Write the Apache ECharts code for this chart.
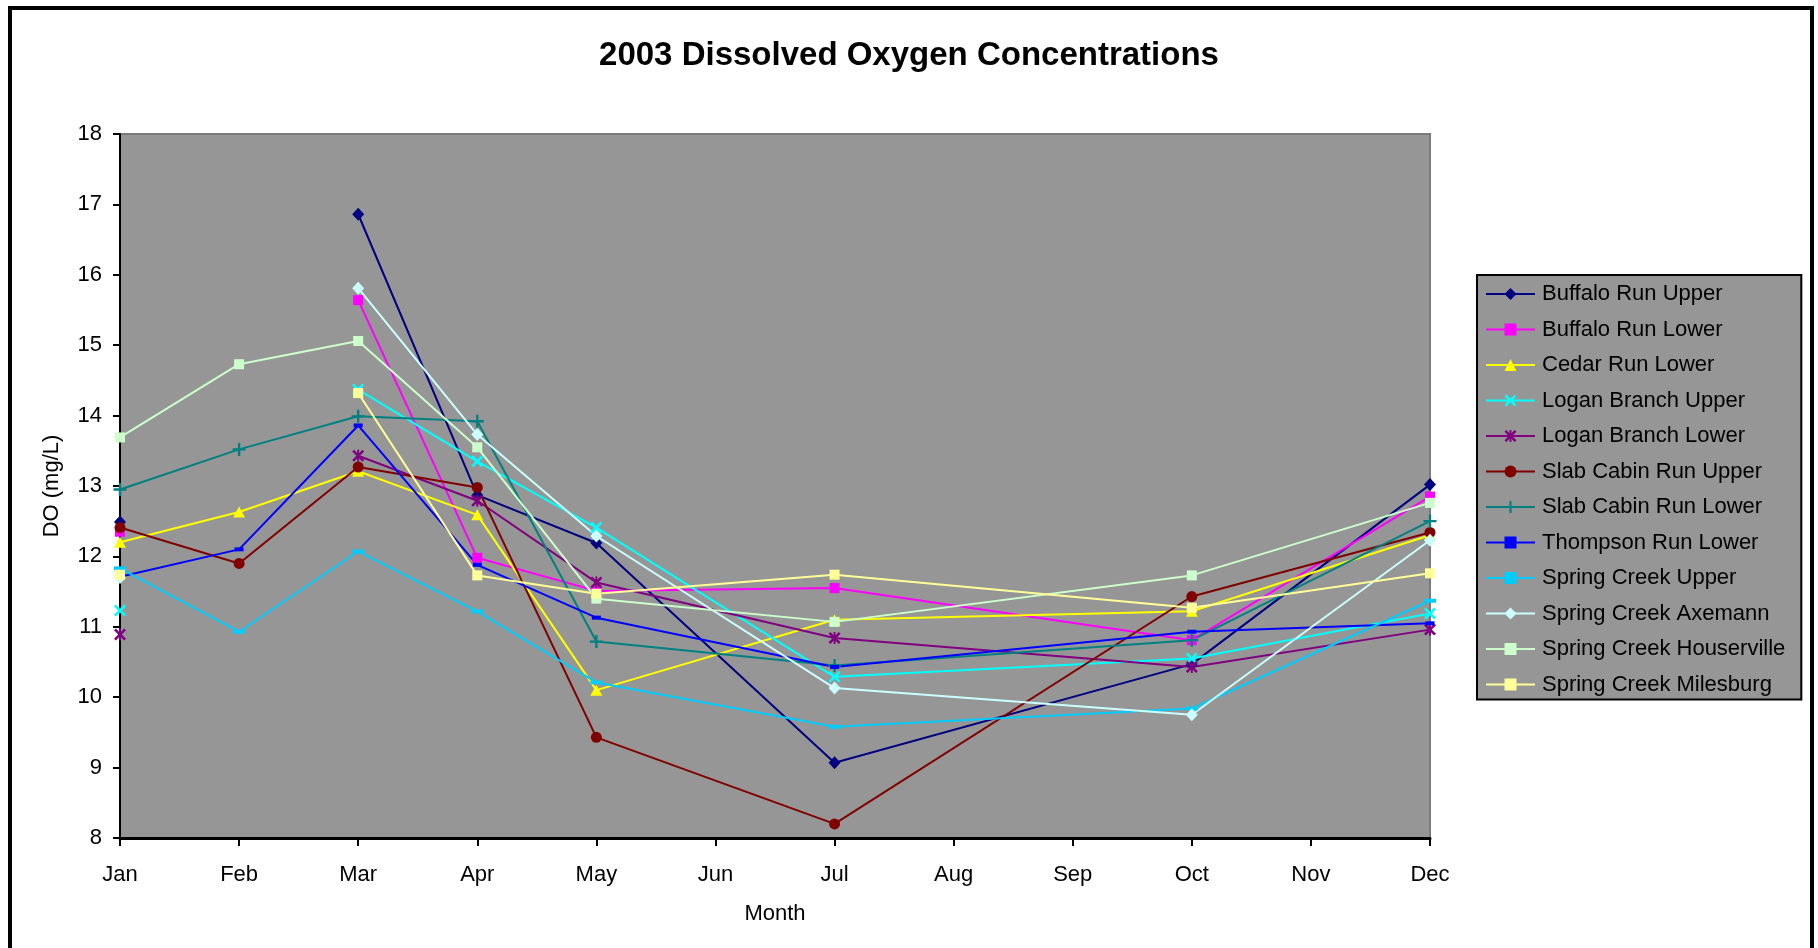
<!DOCTYPE html>
<html>
<head>
<meta charset="utf-8">
<script src="https://cdn.jsdelivr.net/npm/echarts@6/dist/echarts.min.js"></script>
<style>
html,body{margin:0;padding:0;background:#fff;}
#chart{width:1818px;height:948px;}
</style>
</head>
<body>
<div id="chart"></div>
<script>
// Axis tick labels
const monthLabels = ['Jan','Feb','Mar','Apr','May','Jun','Jul','Aug','Sep','Oct','Nov','Dec'];
// Months (index into monthLabels) that have sample rows
const sampleMonths = [0, 1, 2, 3, 4, 6, 9, 11];
const yTicks = [8, 9, 10, 11, 12, 13, 14, 15, 16, 17, 18];

// Series values (mg/L) for Jan, Feb, Mar, Apr, May, Jul, Oct, Dec; null = not sampled
const buffaloRunUpper        = [12.49, null, 16.86, 12.87, 12.19, 9.07, 10.47, 13.02];
const buffaloRunLower        = [12.35, null, 15.64, 11.98, 11.51, 11.55, 10.81, 12.85];
const cedarRunLower          = [12.20, 12.63, 13.21, 12.59, 10.10, 11.10, 11.22, 12.30];
const loganBranchUpper       = [11.23, null, 14.37, 13.35, 12.41, 10.29, 10.55, 11.19];
const loganBranchLower       = [10.89, null, 13.43, 12.79, 11.63, 10.84, 10.43, 10.96];
const slabCabinRunUpper      = [12.41, 11.90, 13.27, 12.98, 9.43, 8.20, 11.43, 12.34];
const slabCabinRunLower      = [12.95, 13.52, 13.99, 13.92, 10.79, 10.45, 10.81, 12.50];
const thompsonRunLower       = [11.71, 12.10, 13.86, 11.88, 11.13, 10.43, 10.93, 11.05];
const springCreekUpper       = [11.83, 10.93, 12.07, 11.22, 10.21, 9.58, 9.84, 11.37];
const springCreekAxemann     = [11.70, null, 15.81, 13.73, 12.29, 10.13, 9.75, 12.23];
const springCreekHouserville = [13.69, 14.73, 15.06, 13.55, 11.40, 11.07, 11.73, 12.76];
const springCreekMilesburg   = [11.74, null, 14.32, 11.73, 11.47, 11.74, 11.27, 11.76];

const seriesNames = ['Buffalo Run Upper','Buffalo Run Lower','Cedar Run Lower','Logan Branch Upper','Logan Branch Lower','Slab Cabin Run Upper','Slab Cabin Run Lower','Thompson Run Lower','Spring Creek Upper','Spring Creek Axemann','Spring Creek Houserville','Spring Creek Milesburg'];
const seriesValues = [buffaloRunUpper, buffaloRunLower, cedarRunLower, loganBranchUpper, loganBranchLower, slabCabinRunUpper, slabCabinRunLower, thompsonRunLower, springCreekUpper, springCreekAxemann, springCreekHouserville, springCreekMilesburg];

const X_PATH = 'path://M0,15 L15,0 L50,35 L85,0 L100,15 L65,50 L100,85 L85,100 L50,65 L15,100 L0,85 L35,50 Z';
const PLUS_PATH = 'path://M41,0 H59 V41 H100 V59 H59 V100 H41 V59 H0 V41 H41 Z';
const STAR_PATH = 'path://M0,15 L15,0 L50,35 L85,0 L100,15 L65,50 L100,85 L85,100 L50,65 L15,100 L0,85 L35,50 Z M42,0 H58 V100 H42 Z';

const styles = [
  {color:'#000080', symbol:'diamond', size:[12,13]},
  {color:'#FF00FF', symbol:'rect', size:[10,10]},
  {color:'#FFFF00', symbol:'triangle', size:[12,11]},
  {color:'#00FFFF', symbol:X_PATH, size:[12,12]},
  {color:'#800080', symbol:STAR_PATH, size:[12,12]},
  {color:'#800000', symbol:'circle', size:[11,11]},
  {color:'#008080', symbol:PLUS_PATH, size:[13,13]},
  {color:'#0000FF', symbol:'rect', size:[9,4]},
  {color:'#00CCFF', symbol:'rect', size:[12,4]},
  {color:'#CCFFFF', symbol:'diamond', size:[12,13]},
  {color:'#CCFFCC', symbol:'rect', size:[10,10]},
  {color:'#FFFF99', symbol:'rect', size:[10,10]}
];

const FONT = 'Liberation Sans, Arial, sans-serif';

const series = seriesNames.map((name, i) => ({
  name: name,
  type: 'line',
  data: sampleMonths.map((m, j) => [m, seriesValues[i][j] == null ? '-' : seriesValues[i][j]]),
  connectNulls: false,
  symbol: styles[i].symbol,
  symbolSize: styles[i].size,
  showAllSymbol: true,
  lineStyle: {color: styles[i].color, width: 2},
  itemStyle: {color: styles[i].color, borderWidth: 0},
  emphasis: {disabled: true}
}));

const chart = echarts.init(document.getElementById('chart'), null, {renderer: 'canvas'});
chart.setOption({
  animation: false,
  backgroundColor: '#ffffff',
  title: {
    text: '2003 Dissolved Oxygen Concentrations',
    left: 'center',
    top: 39,
    padding: 0,
    textStyle: {fontFamily: FONT, fontSize: 33, fontWeight: 'bold', color: '#000'}
  },
  graphic: [{
    type: 'rect',
    shape: {x: 10, y: 8, width: 1802, height: 1000},
    style: {fill: 'none', stroke: '#000', lineWidth: 4},
    silent: true
  }],
  legend: {
    orient: 'vertical',
    left: 1477,
    top: 275,
    padding: [8, 16, 4, 8],
    backgroundColor: '#969696',
    borderColor: '#000',
    borderWidth: 2,
    itemWidth: 49,
    itemHeight: 15,
    itemGap: 13.5,
    selectedMode: false,
    textStyle: {fontFamily: FONT, fontSize: 22, color: '#000', lineHeight: 22, padding: [0,0,0,2]},
    data: seriesNames
  },
  grid: {
    left: 120, top: 134, width: 1310, height: 704,
    show: true,
    backgroundColor: '#969696',
    borderColor: '#7a7a7a',
    borderWidth: 2
  },
  xAxis: {
    type: 'value',
    min: 0, max: 11, interval: 1,
    name: 'Month',
    nameLocation: 'middle',
    nameGap: 65,
    nameTextStyle: {fontFamily: FONT, fontSize: 22, color: '#000'},
    axisLine: {show: true, onZero: false, lineStyle: {color: '#000', width: 3}},
    axisTick: {show: true, length: 8, lineStyle: {color: '#000', width: 2}},
    axisLabel: {
      margin: 26,
      fontFamily: FONT, fontSize: 22, color: '#000',
      showMinLabel: true, showMaxLabel: true,
      formatter: v => monthLabels[v]
    },
    splitLine: {show: false}
  },
  yAxis: {
    type: 'value',
    min: yTicks[0], max: yTicks[yTicks.length - 1], interval: 1,
    name: 'DO (mg/L)',
    nameLocation: 'middle',
    nameGap: 57,
    nameTextStyle: {fontFamily: FONT, fontSize: 22, color: '#000'},
    axisLine: {show: true, lineStyle: {color: '#000', width: 2}},
    axisTick: {show: true, length: 7, lineStyle: {color: '#000', width: 2}},
    axisLabel: {margin: 18, fontFamily: FONT, fontSize: 22, color: '#000'},
    splitLine: {show: false}
  },
  series: series
});
</script>
</body>
</html>
